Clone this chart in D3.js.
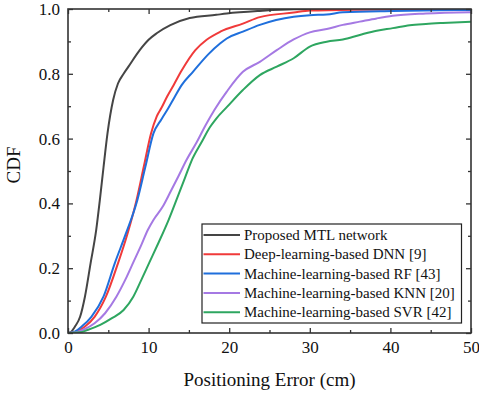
<!DOCTYPE html>
<html><head><meta charset="utf-8">
<script src="https://cdn.jsdelivr.net/npm/d3@7"></script>
</head><body style="margin:0;background:#fff">
<svg id="c" width="479" height="396" font-family="Liberation Serif" style="display:block"></svg>
<script>
const seriesNames = ["Proposed MTL network","Deep-learning-based DNN [9]","Machine-learning-based RF [43]","Machine-learning-based KNN [20]","Machine-learning-based SVR [42]"];
const seriesColors = ["#454545","#f03a3a","#1f6fdc","#a579e3","#2ea660"];
const xTicks = [0,10,20,30,40,50];
const yTicks = [0.0,0.2,0.4,0.6,0.8,1.0];
// [error (cm), CDF]
const mtl = [[0,0],[0.3,0.002],[0.87,0.02],[1.5,0.05],[2.1,0.112],[2.8,0.215],[3.5,0.318],[3.95,0.41],[4.4,0.51],[4.9,0.616],[5.6,0.719],[6.2,0.77],[6.9,0.80],[7.5,0.822],[8.9,0.873],[10,0.905],[11,0.925],[12.7,0.95],[15.1,0.972],[18.4,0.982],[19.7,0.986],[23.8,0.994],[28,0.999],[35,1.0],[50,1.0]];
const dnn = [[0,0],[0.9,0.003],[2.1,0.02],[3.3,0.05],[4.7,0.112],[6.2,0.215],[7.4,0.308],[8.5,0.41],[9.4,0.513],[10.3,0.616],[11.0,0.668],[11.6,0.695],[12.3,0.73],[13.1,0.765],[14.1,0.81],[15.8,0.873],[17.2,0.905],[18.9,0.93],[21.7,0.955],[23.8,0.975],[28,0.989],[30,0.995],[36,0.998],[50,1.0]];
const rf = [[0,0],[0.9,0.005],[1.7,0.02],[2.9,0.05],[4.4,0.112],[5.8,0.215],[7.2,0.308],[8.6,0.41],[9.6,0.513],[10.6,0.616],[11.6,0.66],[12.4,0.692],[13.2,0.727],[14.1,0.765],[15.5,0.806],[17.4,0.86],[18.9,0.894],[19.7,0.909],[21.7,0.93],[23.8,0.951],[28,0.976],[30,0.981],[32.1,0.983],[34.1,0.99],[40.3,0.994],[50,0.997]];
const knn = [[0,0],[1.0,0.002],[1.9,0.01],[3.3,0.03],[4.6,0.061],[6.0,0.112],[7.1,0.164],[8.1,0.218],[9.1,0.272],[9.9,0.318],[10.6,0.349],[11.8,0.392],[12.7,0.435],[13.7,0.484],[14.7,0.534],[16.0,0.59],[17.0,0.638],[18.2,0.69],[19.7,0.745],[21.7,0.806],[23.8,0.837],[25.9,0.873],[28,0.906],[30,0.928],[32.1,0.938],[34.1,0.951],[36.2,0.961],[38.3,0.971],[40.3,0.979],[44.4,0.986],[50,0.99]];
const svr = [[0,0],[1.5,0.002],[2.5,0.01],[4.0,0.025],[5.4,0.045],[6.9,0.071],[8.1,0.112],[9.1,0.164],[10.1,0.218],[11.2,0.277],[12.5,0.35],[13.6,0.42],[14.5,0.478],[15.3,0.53],[16.6,0.59],[17.6,0.635],[18.4,0.662],[19.7,0.697],[21.7,0.75],[23.8,0.796],[25.9,0.822],[28,0.848],[30,0.884],[32.1,0.899],[34.1,0.906],[36.2,0.92],[38.3,0.933],[40.3,0.941],[42.4,0.95],[44.4,0.954],[46.5,0.957],[50,0.961]];
const seriesData = [mtl,dnn,rf,knn,svr];

const FONT = "Liberation Serif";
const svg = d3.select("#c");
const m = {l:68,r:8,t:9,b:63};
const W = 479, H = 396;
const x = d3.scaleLinear().domain([0,50]).range([m.l, W-m.r]);
const y = d3.scaleLinear().domain([0,1]).range([H-m.b, m.t]);
const axisColor = "#333";

// lines
svg.append("clipPath").attr("id","cl").append("rect")
  .attr("x",x(0)).attr("y",y(1)).attr("width",x(50)-x(0)).attr("height",y(0)-y(1));
const line = d3.line().x(d=>x(d[0])).y(d=>y(d[1])).curve(d3.curveMonotoneX);
const g = svg.append("g").attr("clip-path","url(#cl)");
seriesData.forEach((s,i)=>{
  g.append("path").datum(s).attr("d",line).attr("fill","none")
   .attr("stroke",seriesColors[i]).attr("stroke-width",2);
});

// axes
function styleAxis(sel){
  sel.attr("font-family",FONT);
  sel.selectAll(".domain").remove();
  sel.selectAll(".tick line").attr("stroke",axisColor).attr("stroke-width",1.3);
  sel.selectAll("text").attr("font-family",FONT).attr("font-size",17).attr("fill","#111");
}
const xMinor = d3.range(5,50,10);
const yMinor = d3.range(0.1,1,0.2);
svg.append("g").attr("transform",`translate(0,${y(0)})`)
  .call(d3.axisBottom(x).tickValues(xTicks).tickSize(-5).tickPadding(8).tickFormat(d3.format("d"))).call(styleAxis);
svg.append("g").attr("transform",`translate(0,${y(0)})`)
  .call(d3.axisBottom(x).tickValues(xMinor).tickSize(-3).tickFormat("")).call(styleAxis);
svg.append("g").attr("transform",`translate(0,${y(1)})`)
  .call(d3.axisTop(x).tickValues(xTicks).tickSize(-5).tickFormat("")).call(styleAxis);
svg.append("g").attr("transform",`translate(0,${y(1)})`)
  .call(d3.axisTop(x).tickValues(xMinor).tickSize(-3).tickFormat("")).call(styleAxis);
svg.append("g").attr("transform",`translate(${x(0)},0)`)
  .call(d3.axisLeft(y).tickValues(yTicks).tickSize(-5).tickPadding(8).tickFormat(d3.format(".1f"))).call(styleAxis);
svg.append("g").attr("transform",`translate(${x(0)},0)`)
  .call(d3.axisLeft(y).tickValues(yMinor).tickSize(-3).tickFormat("")).call(styleAxis);
svg.append("g").attr("transform",`translate(${x(50)},0)`)
  .call(d3.axisRight(y).tickValues(yTicks).tickSize(-5).tickFormat("")).call(styleAxis);
svg.append("g").attr("transform",`translate(${x(50)},0)`)
  .call(d3.axisRight(y).tickValues(yMinor).tickSize(-3).tickFormat("")).call(styleAxis);

// frame
svg.append("rect").attr("x",x(0)).attr("y",y(1)).attr("width",x(50)-x(0)).attr("height",y(0)-y(1))
  .attr("fill","none").attr("stroke",axisColor).attr("stroke-width",1.6);

// titles
svg.append("text").attr("x",(x(0)+x(50))/2).attr("y",386).attr("text-anchor","middle")
  .attr("font-family",FONT).attr("font-size",19).attr("fill","#111").text("Positioning Error (cm)");
svg.append("text").attr("transform",`translate(20,${(y(0)+y(1))/2 - 6}) rotate(-90)`)
  .attr("text-anchor","middle").attr("font-family",FONT).attr("font-size",19).attr("fill","#111").text("CDF");

// legend
const lg = svg.append("g");
lg.append("rect").attr("x",202).attr("y",224).attr("width",259.5).attr("height",99)
  .attr("fill","#fff").attr("stroke","#222").attr("stroke-width",1.2);
seriesNames.forEach((n,i)=>{
  const yy = 235 + i*19.3;
  lg.append("line").attr("x1",203.5).attr("x2",240).attr("y1",yy).attr("y2",yy)
    .attr("stroke",seriesColors[i]).attr("stroke-width",2);
  lg.append("text").attr("x",244).attr("y",yy+5).attr("font-family",FONT).attr("font-size",15)
    .attr("fill","#111").text(n);
});
</script>
</body></html>
